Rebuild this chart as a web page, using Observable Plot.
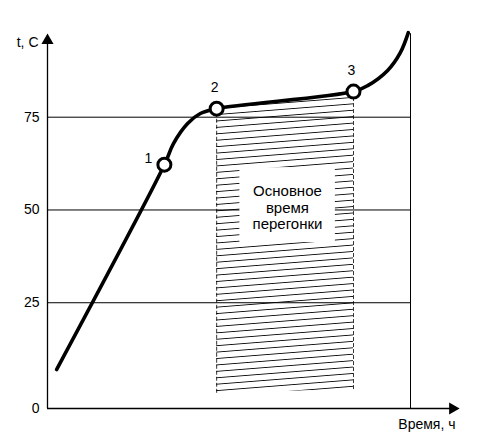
<!DOCTYPE html>
<html>
<head>
<meta charset="utf-8">
<script src="https://cdn.jsdelivr.net/npm/d3@7"></script>
<script src="https://cdn.jsdelivr.net/npm/@observablehq/plot@0.6"></script>
<style>
  body { margin: 0; background: white; }
</style>
</head>
<body>
<div id="chart"></div>
<script>
// кривая разгонки: время (усл. ед.) и температура
const curveX = [0.25, 3.22, 3.47, 3.86, 4.21, 4.66, 8.43, 8.82, 9.37, 9.72, 9.94]
const curveT = [7.0, 62.2, 67.9, 73.3, 76.0, 77.3, 81.9, 83.5, 87.6, 92.4, 97.8]

// отмеченные точки
const pointNames = ['1', '2', '3']
const pointX = [3.22, 4.66, 8.43]
const pointT = [62.2, 77.3, 81.9]

const yTicks = [25, 50, 75]
const gridT = [25, 50, 75]
// схема: ось времени проходит чуть ниже, чем дал бы равный шаг
const yBase = -3.5

// зона основного времени перегонки
const zoneX = [4.66, 8.43]
const zoneTop = [77.3, 81.9]
const zoneBottom = [0.6, 1.6]

let curve = curveX.map((x, i) => ({x: x, t: curveT[i]}))
let points = pointNames.map((n, i) => ({name: n, x: pointX[i], t: pointT[i]}))
let zone = zoneX.map((x, i) => ({x: x, top: zoneTop[i], bottom: zoneBottom[i]}))

const HATCH = '#010203'

let chart = Plot.plot({
  width: 487,
  height: 437,
  x: {domain: [0, 10], range: [47, 410], axis: null},
  y: {domain: [yBase, 75], range: [408, 116.7], axis: null},
  style: {fontFamily: 'Liberation Sans, Arial, sans-serif', fontSize: '14px', background: 'white', color: 'black'},
  marks: [
    Plot.areaY(zone, {x: 'x', y1: 'bottom', y2: 'top', fill: HATCH}),
    Plot.ruleX(zone, {x: 'x', y1: 'bottom', y2: 'top', stroke: 'black', strokeWidth: 0.8, strokeDasharray: '4,2'}),
    Plot.ruleY(gridT, {x1: 0, x2: 10, stroke: 'black', strokeWidth: 1}),
    Plot.ruleX([10], {y1: yBase, y2: 97.5, stroke: 'black', strokeWidth: 1}),
    // оси со стрелками
    Plot.ruleX([0], {y1: yBase, y2: 95, stroke: 'black', strokeWidth: 1.3}),
    Plot.ruleY([yBase], {x1: 0, x2: 11.1, stroke: 'black', strokeWidth: 1.3}),
    Plot.dot([{x: 0, t: 95.7}], {x: 'x', y: 't', symbol: 'triangle', r: 4.5, fill: 'black', stroke: null}),
    Plot.dot([{x: 11.16, t: yBase}], {x: 'x', y: 't', symbol: 'triangle', r: 4.5, fill: 'black', stroke: null, rotate: 90}),
    Plot.rect([{x1: 5.3, x2: 7.93, y1: 41.2, y2: 61.4}], {x1: 'x1', x2: 'x2', y1: 'y1', y2: 'y2', fill: 'white'}),
    Plot.text(['Основное\nвремя\nперегонки'], {x: 6.61, y: 50.7, fontSize: 15, lineHeight: 1.07, text: d => d}),
    Plot.line(curve, {x: 'x', y: 't', curve: 'catmull-rom', stroke: 'black', strokeWidth: 3.6}),
    Plot.dot(points, {x: 'x', y: 't', r: 6.5, fill: 'white', stroke: 'black', strokeWidth: 3}),
    Plot.text(points, {x: 'x', y: 't', text: 'name', dx: -16, dy: -6, fontSize: 14, filter: d => d.name == '1'}),
    Plot.text(points, {x: 'x', y: 't', text: 'name', dx: -2, dy: -21, fontSize: 14, filter: d => d.name != '1'}),
    // подписи осей
    Plot.text(yTicks, {x: 0, y: d => d, text: d => String(d), dx: -8, textAnchor: 'end', fontSize: 14}),
    Plot.text(['0'], {x: 0, y: yBase, text: d => d, dx: -8, textAnchor: 'end', fontSize: 14}),
    Plot.text(['t, C'], {x: 0, y: 95.1, text: d => d, dx: -9, textAnchor: 'end', fontSize: 14}),
    Plot.text(['Время, ч'], {x: 11.24, y: -7.8, text: d => d, textAnchor: 'end', fontSize: 14}),
  ],
})

// штриховка
let svg = d3.select(chart)
svg.insert('defs', ':first-child').html(
  '<pattern id="hatch" patternUnits="userSpaceOnUse" width="400" height="6.4" patternTransform="rotate(-4.5)">' +
  '<line x1="0" y1="3.2" x2="400" y2="3.2" stroke="black" stroke-width="0.9"/></pattern>')
svg.selectAll('[fill="' + HATCH + '"]').attr('fill', 'url(#hatch)')

d3.select('#chart').append(() => chart)
</script>
</body>
</html>
